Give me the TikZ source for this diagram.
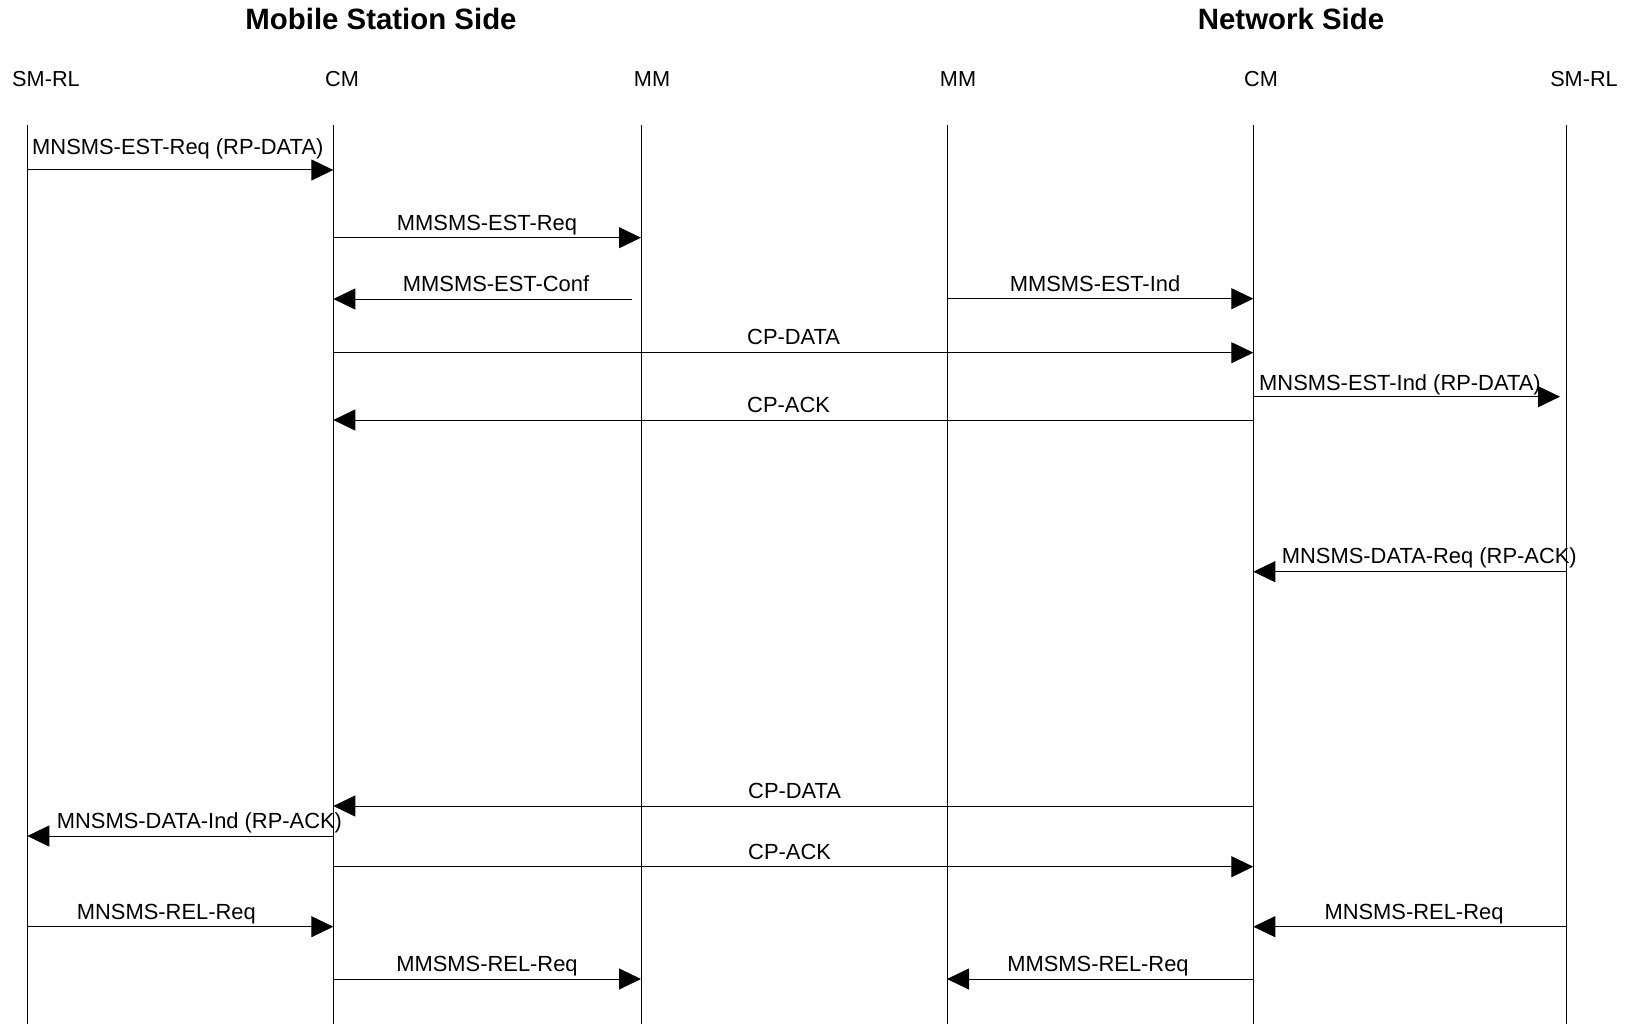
\documentclass[tikz,border=0pt]{standalone}
\usepackage{fontspec}
\setmainfont{Liberation Sans}
\usetikzlibrary{arrows.meta}
\begin{document}
\begin{tikzpicture}[x=1pt,y=-1pt,
  lifeline/.style={line width=1pt, draw=black},
  msg/.style={line width=1pt, draw=black, -{Triangle[length=22pt,width=21pt]}},
  lbl/.style={font=\fontsize{21.9pt}{26pt}\selectfont, inner sep=0pt},
  hdr/.style={font=\fontsize{21.7pt}{26pt}\selectfont, inner sep=0pt, anchor=base},
  side/.style={font=\fontsize{29.4pt}{34pt}\selectfont\bfseries, inner sep=0pt, anchor=base}]
\useasboundingbox (0,0) rectangle (1627,1024);
% titles
\node[side] (ms) at (381,30) {Mobile Station Side};
\node[side] (ns) at (1291,30) {Network Side};
% lifeline headers
\node[hdr] (h1) at (46,87) {SM-RL};
\node[hdr] (h2) at (342,87) {CM};
\node[hdr] (h3) at (652,87) {MM};
\node[hdr] (h4) at (958,87) {MM};
\node[hdr] (h5) at (1261,87) {CM};
\node[hdr] (h6) at (1584,87) {SM-RL};
% lifelines
\coordinate (L1) at (27.3,125);   \coordinate (L1b) at (27.3,1024);
\coordinate (L2) at (333.3,125);  \coordinate (L2b) at (333.3,1024);
\coordinate (L3) at (641,125);    \coordinate (L3b) at (641,1024);
\coordinate (L4) at (947,125);    \coordinate (L4b) at (947,1024);
\coordinate (L5) at (1253.3,125); \coordinate (L5b) at (1253.3,1024);
\coordinate (L6) at (1566.7,125); \coordinate (L6b) at (1566.7,1024);
\foreach \i in {1,...,6} {\draw[lifeline] (L\i) -- (L\i b);}
% message rows
\coordinate (y1) at (0,170);
\coordinate (y2) at (0,237.7);
\coordinate (y3) at (0,299);
\coordinate (y4) at (0,298.7);
\coordinate (y5) at (0,352.7);
\coordinate (y6) at (0,396.7);
\coordinate (y7) at (0,420);
\coordinate (y8) at (0,571.7);
\coordinate (y9) at (0,806);
\coordinate (y10) at (0,836);
\coordinate (y11) at (0,866.7);
\coordinate (y12) at (0,926.7);
\coordinate (y13) at (0,979);
\coordinate (c3s) at (632,299);
\coordinate (c6e) at (1560,396.7);
% messages
\draw[msg] (L1 |- y1) -- (L2 |- y1);
\node[lbl, anchor=base west] (t1) at (32,155) {MNSMS-EST-Req (RP-DATA)};
\draw[msg] (L2 |- y2) -- (L3 |- y2);
\node[lbl, anchor=base] (t2) at (487,230.7) {MMSMS-EST-Req};
\draw[msg] (c3s) -- (L2 |- y3);
\node[lbl, anchor=base] (t3) at (496,291.7) {MMSMS-EST-Conf};
\draw[msg] (L4 |- y4) -- (L5 |- y4);
\node[lbl, anchor=base] (t4) at (1095,291.5) {MMSMS-EST-Ind};
\draw[msg] (L2 |- y5) -- (L5 |- y5);
\node[lbl, anchor=base west] (t5) at (747,344.5) {CP-DATA};
\draw[msg] (L5 |- y6) -- (c6e);
\node[lbl, anchor=base west] (t6) at (1259,390) {MNSMS-EST-Ind (RP-DATA)};
\draw[msg] (L5 |- y7) -- (L2 |- y7);
\node[lbl, anchor=base west] (t7) at (747,412.3) {CP-ACK};
\draw[msg] (L6 |- y8) -- (L5 |- y8);
\node[lbl, anchor=base west] (t8) at (1281.7,563.5) {MNSMS-DATA-Req (RP-ACK)};
\draw[msg] (L5 |- y9) -- (L2 |- y9);
\node[lbl, anchor=base west] (t9) at (748,798) {CP-DATA};
\draw[msg] (L2 |- y10) -- (L1 |- y10);
\node[lbl, anchor=base west] (t10) at (56.7,828) {MNSMS-DATA-Ind (RP-ACK)};
\draw[msg] (L2 |- y11) -- (L5 |- y11);
\node[lbl, anchor=base west] (t11) at (748,859) {CP-ACK};
\draw[msg] (L1 |- y12) -- (L2 |- y12);
\node[lbl, anchor=base west] (t12) at (76.7,919) {MNSMS-REL-Req};
\draw[msg] (L6 |- y12) -- (L5 |- y12);
\node[lbl, anchor=base] (t13) at (1414,919) {MNSMS-REL-Req};
\draw[msg] (L2 |- y13) -- (L3 |- y13);
\node[lbl, anchor=base] (t14) at (487,971.7) {MMSMS-REL-Req};
\draw[msg] (L5 |- y13) -- (L4 |- y13);
\node[lbl, anchor=base] (t15) at (1098,971.7) {MMSMS-REL-Req};
\end{tikzpicture}
\end{document}
